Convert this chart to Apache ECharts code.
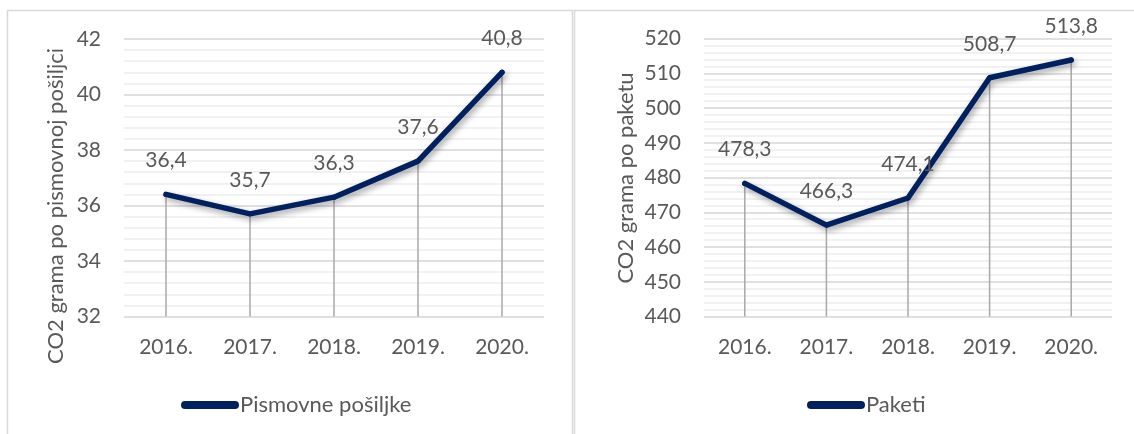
<!DOCTYPE html>
<html>
<head>
<meta charset="utf-8">
<script src="https://cdn.jsdelivr.net/npm/echarts@6/dist/echarts.min.js"></script>
<style>
html,body{margin:0;padding:0;background:#fff;}
#c{width:1134px;height:434px;}
</style>
</head>
<body>
<div id="c"></div>
<script>
const categories = ['2016.', '2017.', '2018.', '2019.', '2020.'];
const letterValues = [36.4, 35.7, 36.3, 37.6, 40.8];
const parcelValues = [478.3, 466.3, 474.1, 508.7, 513.8];
const letterName = 'Pismovne pošiljke';
const parcelName = 'Paketi';
const letterAxisTitle = 'CO2 grama po pismovnoj pošiljci';
const parcelAxisTitle = 'CO2 grama po paketu';
const letterAxis = { min: 32, max: 42, interval: 2 };
const parcelAxis = { min: 440, max: 520, interval: 10 };

const FONT = 'Lato';
const TXT = '#595959';
const NAVY = '#002060';
const FS = 21;

function fmt(v) { return v.toFixed(1).replace('.', ','); }

function xAxisFor(gi) {
  return {
    type: 'category', gridIndex: gi, data: categories, boundaryGap: true,
    axisLine: { show: false }, axisTick: { show: false },
    axisLabel: { color: TXT, fontSize: FS, fontFamily: FONT, margin: 20 },
    splitLine: { show: false }
  };
}
function yAxisFor(gi, ax) {
  return {
    type: 'value', gridIndex: gi, min: ax.min, max: ax.max, interval: ax.interval,
    axisLine: { show: false }, axisTick: { show: false },
    axisLabel: { color: TXT, fontSize: FS, fontFamily: FONT, margin: 23 },
    splitLine: { show: true, lineStyle: { color: '#D6D6D6', width: 1.6 } },
    minorTick: { show: false, splitNumber: 5 },
    minorSplitLine: { show: true, lineStyle: { color: '#EDEDED', width: 1.5 } }
  };
}
function dropSeries(idx, values, ax) {
  return {
    type: 'custom', xAxisIndex: idx, yAxisIndex: idx, z: 1, silent: true,
    data: values.map((v, i) => [i, v]),
    renderItem: function (params, api) {
      const p = api.coord([api.value(0), api.value(1)]);
      const b = api.coord([api.value(0), ax.min]);
      return { type: 'line', shape: { x1: p[0], y1: p[1], x2: b[0], y2: b[1] },
               style: { stroke: '#A8A8A8', lineWidth: 1.5 } };
    }
  };
}
function lineSeries(idx, name, values) {
  return {
    type: 'line', name: name, xAxisIndex: idx, yAxisIndex: idx, z: 3,
    data: values, symbol: 'circle', symbolSize: 5, showSymbol: true,
    itemStyle: { color: NAVY },
    lineStyle: { color: NAVY, width: 5.5, cap: 'round', join: 'round',
                 shadowColor: 'rgba(0,0,0,0.38)', shadowBlur: 6, shadowOffsetX: 2, shadowOffsetY: 3 },
    label: { show: true, position: 'top', distance: 21, color: TXT, fontSize: FS, fontFamily: FONT,
             formatter: p => fmt(p.value) },
    animation: false
  };
}
function axisTitle(text, x, y) {
  return { type: 'text', x: x, y: y, rotation: Math.PI / 2, silent: true,
           style: { text: text, fill: TXT, fontSize: 22, fontFamily: FONT, align: 'center', verticalAlign: 'middle' } };
}
const capsule = 'path://M4,0 L54,0 A4,4 0 0 1 54,8 L4,8 A4,4 0 0 1 4,0 Z';

const chart = echarts.init(document.getElementById('c'), null, { renderer: 'canvas' });
chart.setOption({
  animation: false,
  backgroundColor: '#fff',
  graphic: [
    { type: 'rect', shape: { x: 7.5, y: 10.5, width: 565, height: 440 }, style: { fill: 'none', stroke: '#D9D9D9', lineWidth: 1.5 }, silent: true },
    { type: 'rect', shape: { x: 574.5, y: 10.5, width: 580, height: 440 }, style: { fill: 'none', stroke: '#D9D9D9', lineWidth: 1.5 }, silent: true },
    axisTitle(letterAxisTitle, 56, 206),
    axisTitle(parcelAxisTitle, 626, 178)
  ],
  grid: [
    { left: 124, right: 590, top: 39, bottom: 117.5 },
    { left: 704, right: 22, top: 38.5, bottom: 117.5 }
  ],
  xAxis: [xAxisFor(0), xAxisFor(1)],
  yAxis: [yAxisFor(0, letterAxis), yAxisFor(1, parcelAxis)],
  legend: [
    { data: [letterName], left: 176, top: 389, icon: capsule, itemWidth: 58, itemHeight: 8, itemGap: 2,
      textStyle: { color: TXT, fontSize: 22, fontFamily: FONT, padding: [0, 0, 0, -4] } },
    { data: [parcelName], left: 802, top: 389, icon: capsule, itemWidth: 58, itemHeight: 8, itemGap: 2,
      textStyle: { color: TXT, fontSize: 22, fontFamily: FONT, padding: [0, 0, 0, -4] } }
  ],
  series: [
    dropSeries(0, letterValues, letterAxis),
    lineSeries(0, letterName, letterValues),
    dropSeries(1, parcelValues, parcelAxis),
    lineSeries(1, parcelName, parcelValues)
  ]
});
</script>
</body>
</html>
